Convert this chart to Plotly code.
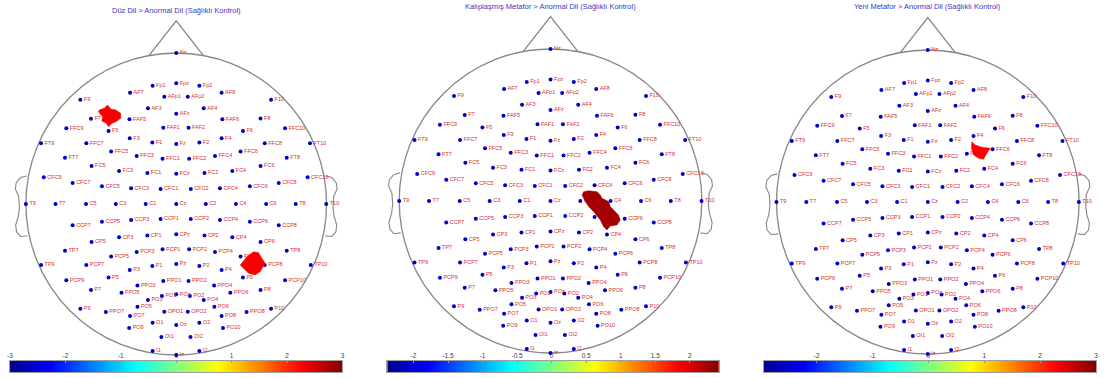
import numpy as np
import plotly.graph_objects as go
from plotly.colors import sample_colorscale

W, H = 1110, 378

# ---------------- data ----------------
names = ["Nz", "Fp1", "Fpz", "Fp2", "AF7", "AFp1", "AFp2", "AF8", "F9", "F10",
         "AF3", "AFz", "AF4", "F7", "FAF5", "FAF6", "F8", "FFC9", "FAF1", "FAF2",
         "FFC10", "F5", "F6", "FT9", "FFC7", "F3", "F1", "Fz", "F2", "F4",
         "FFC8", "FT10", "FFC5", "FFC6", "FT7", "FFC3", "FFC1", "FFC2", "FFC4", "FT8",
         "FC5", "FC6", "FC3", "FC1", "FCz", "FC2", "FC4", "CFC9", "CFC10", "CFC7",
         "CFC8", "CFC5", "CFC3", "CFC1", "CFC2", "CFC4", "CFC6", "T9", "T7", "C5",
         "C3", "C1", "Cz", "C2", "C4", "C6", "T8", "T10", "CCP7", "CCP5",
         "CCP3", "CCP1", "CCP2", "CCP4", "CCP6", "CCP8", "CP5", "CP3", "CP1", "CPz",
         "CP2", "CP4", "CP6", "TP7", "PCP5", "PCP3", "PCP1", "PCP2", "PCP4", "PCP6",
         "TP8", "TP9", "PCP7", "P3", "P1", "Pz", "P2", "P4", "PCP8", "TP10",
         "PCP9", "P5", "PPO1", "PPO2", "P6", "PCP10", "P7", "PPO5", "PPO3", "PPO4",
         "PPO6", "P8", "PO3", "PO1", "POz", "PO2", "PO4", "P9", "PPO7", "PO5",
         "OPO1", "OPO2", "PO6", "PPO8", "P10", "PO7", "PO8", "O1", "Oz", "O2",
         "PO9", "PO10", "OI1", "OI2", "I1", "Iz", "I2"]
elec_x = [0.0, -0.157, 0.0, 0.154, -0.307, -0.079, 0.077, 0.302, -0.638, 0.631,
          -0.188, 0.0, 0.183, -0.567, -0.311, 0.307, 0.561, -0.731, -0.086, 0.082,
          0.724, -0.450, 0.444, -0.899, -0.598, -0.309, -0.159, 0.0, 0.154, 0.302,
          0.589, 0.890, -0.433, 0.428, -0.740, -0.263, -0.091, 0.086, 0.258, 0.735,
          -0.563, 0.561, -0.380, -0.192, 0.0, 0.188, 0.373, -0.881, 0.874, -0.689,
          0.682, -0.494, -0.300, -0.104, 0.097, 0.291, 0.490, -1.0, -0.803, -0.600,
          -0.402, -0.203, 0.0, 0.197, 0.397, 0.598, 0.795, 0.998, -0.689, -0.494,
          -0.300, -0.104, 0.097, 0.291, 0.490, 0.682, -0.563, -0.380, -0.192, 0.0,
          0.188, 0.373, 0.561, -0.740, -0.433, -0.263, -0.091, 0.086, 0.258, 0.428,
          0.735, -0.899, -0.598, -0.309, -0.159, 0.0, 0.154, 0.302, 0.589, 0.895,
          -0.731, -0.450, -0.086, 0.082, 0.444, 0.724, -0.567, -0.364, -0.258, 0.252,
          0.360, 0.561, -0.188, -0.095, 0.0, 0.091, 0.183, -0.638, -0.468, -0.258,
          -0.079, 0.077, 0.254, 0.468, 0.631, -0.307, 0.302, -0.157, 0.0, 0.154,
          -0.313, 0.311, -0.099, 0.095, -0.157, 0.0, 0.154]
elec_y = [1.0, 0.783, 0.799, 0.783, 0.737, 0.711, 0.711, 0.737, 0.691, 0.691,
          0.634, 0.598, 0.634, 0.565, 0.561, 0.561, 0.567, 0.501, 0.505, 0.505,
          0.501, 0.483, 0.483, 0.402, 0.402, 0.435, 0.408, 0.397, 0.408, 0.435,
          0.402, 0.402, 0.347, 0.347, 0.307, 0.318, 0.300, 0.300, 0.318, 0.307,
          0.252, 0.252, 0.219, 0.205, 0.201, 0.205, 0.219, 0.177, 0.177, 0.139,
          0.139, 0.117, 0.104, 0.099, 0.099, 0.104, 0.117, 0.0, 0.0, 0.0,
          0.0, 0.0, 0.0, 0.0, 0.0, 0.0, 0.0, 0.0, -0.141, -0.117,
          -0.106, -0.099, -0.099, -0.106, -0.117, -0.141, -0.252, -0.221, -0.208, -0.201,
          -0.208, -0.221, -0.252, -0.309, -0.347, -0.318, -0.300, -0.300, -0.318, -0.347,
          -0.309, -0.404, -0.404, -0.437, -0.410, -0.397, -0.410, -0.437, -0.404, -0.404,
          -0.505, -0.486, -0.510, -0.510, -0.486, -0.505, -0.570, -0.587, -0.539, -0.539,
          -0.587, -0.570, -0.636, -0.609, -0.598, -0.609, -0.636, -0.693, -0.715, -0.680,
          -0.713, -0.713, -0.680, -0.715, -0.693, -0.742, -0.742, -0.786, -0.801, -0.786,
          -0.821, -0.821, -0.881, -0.881, -0.974, -1.0, -0.974]

titles = ["Düz Dil > Anormal Dil (Sağlıklı Kontrol)",
          "Kalıplaşmış Metafor > Anormal Dil (Sağlıklı Kontrol)",
          "Yeni Metafor > Anormal Dil (Sağlıklı Kontrol)"]

color_ranges = [(-3.0, 3.0), (-2.38, 2.42), (-2.95, 3.0)]
tick_vals = [[-3, -2, -1, 0, 1, 2, 3],
             [-2, -1.5, -1, -0.5, 0, 0.5, 1, 1.5, 2],
             [-2, -1, 0, 1, 2, 3]]
tick_text = [["-3", "-2", "-1", "0", "1", "2", "3"],
             ["-2", "-1.5", "-1", "-0.5", "0", "0.5", "1", "1.5", "2"],
             ["-2", "-1", "0", "1", "2", "3"]]

# significant clusters (outline in head coordinates) and their t-values
p1_blobA_x = [-0.512, -0.479, -0.457, -0.435, -0.402, -0.369, -0.369, -0.402, -0.428, -0.450, -0.464, -0.495, -0.490, -0.517]
p1_blobA_y = [0.623, 0.634, 0.656, 0.629, 0.623, 0.601, 0.568, 0.545, 0.534, 0.512, 0.534, 0.550, 0.578, 0.611]
p1_blobB_x = [0.426, 0.470, 0.515, 0.548, 0.570, 0.591, 0.558, 0.525, 0.481, 0.448]
p1_blobB_y = [-0.404, -0.349, -0.316, -0.323, -0.360, -0.393, -0.448, -0.470, -0.459, -0.426]
p2_blob_x = [0.219, 0.252, 0.307, 0.329, 0.340, 0.384, 0.395, 0.449, 0.461, 0.439, 0.395, 0.373, 0.351, 0.329, 0.285, 0.252, 0.230, 0.208]
p2_blob_y = [0.061, 0.068, 0.061, 0.039, 0.018, -0.004, -0.037, -0.092, -0.125, -0.158, -0.164, -0.191, -0.169, -0.125, -0.070, -0.037, -0.004, 0.039]
p3_blob_x = [0.291, 0.314, 0.357, 0.413, 0.390, 0.368, 0.336, 0.303, 0.288]
p3_blob_y = [0.397, 0.375, 0.360, 0.353, 0.320, 0.281, 0.288, 0.309, 0.353]

blobs = [
    [(p1_blobA_x, p1_blobA_y, 2.3), (p1_blobB_x, p1_blobB_y, 2.3)],
    [(p2_blob_x, p2_blob_y, 2.25)],
    [(p3_blob_x, p3_blob_y, 2.28)],
]

# ---------------- styling / geometry ----------------
jet = [[0.0, "rgb(0,0,143)"], [0.125, "rgb(0,0,255)"], [0.375, "rgb(0,255,255)"],
       [0.625, "rgb(255,255,0)"], [0.875, "rgb(255,0,0)"], [1.0, "rgb(128,0,0)"]]

panels = [
    dict(cx=174, cy=204, r=151, x0=0, x1=370, ty=10.5, bx0=7, bx1=341),
    dict(cx=550, cy=201, r=152, x0=370, x1=740, ty=6.5, bx0=386, bx1=719),
    dict(cx=929, cy=202, r=152, x0=740, x1=1110, ty=6.5, bx0=764, bx1=1098),
]
bar_top, bar_bot = 361, 372

ear_x = [0.995, 1.035, 1.065, 1.07, 1.048, 1.043, 1.05, 1.068, 1.062, 1.035, 0.99]
ear_y = [0.185, 0.175, 0.14, 0.1, 0.05, -0.02, -0.08, -0.14, -0.185, -0.215, -0.21]

head_col = "rgb(135,135,135)"
fig = go.Figure()
layout = dict(width=W, height=H, margin=dict(l=0, r=0, t=0, b=0),
              paper_bgcolor="white", plot_bgcolor="rgba(0,0,0,0)",
              showlegend=False, font=dict(family="Arial, Liberation Sans, sans-serif"))
shapes, annotations = [], []

# colorbars on axes 1-3
for i, p in enumerate(panels):
    k = i + 1
    cmin, cmax = color_ranges[i]
    n = 256
    dx = (cmax - cmin) / n
    xs = cmin + dx * (np.arange(n) + 0.5)
    fig.add_trace(go.Heatmap(z=[xs], x=xs, y=[0.5], colorscale=jet, zmin=cmin, zmax=cmax,
                             showscale=False, hoverinfo="skip",
                             xaxis=f"x{k}", yaxis=f"y{k}"))
    sfx = "" if k == 1 else str(k)
    layout[f"xaxis{sfx}"] = dict(domain=[p["bx0"] / W, p["bx1"] / W], range=[cmin, cmax],
                                 anchor=f"y{k}", side="top", tickvals=tick_vals[i],
                                 ticktext=tick_text[i], ticks="inside", ticklen=2,
                                 tickcolor="rgb(150,150,150)", showgrid=False, zeroline=False,
                                 showline=True, mirror=True, linecolor="rgb(160,160,160)",
                                 linewidth=0.6, tickfont=dict(size=6.5, color="rgb(60,60,60)"),
                                 fixedrange=True)
    layout[f"yaxis{sfx}"] = dict(domain=[(H - bar_bot) / H, (H - bar_top) / H], range=[0, 1],
                                 anchor=f"x{k}", showticklabels=False, ticks="", showgrid=False,
                                 zeroline=False, showline=True, mirror=True,
                                 linecolor="rgb(160,160,160)", linewidth=0.6, fixedrange=True)

# heads on axes 4-6
for i, p in enumerate(panels):
    k = i + 4
    r, cx, cy = p["r"], p["cx"], p["cy"]
    xa, ya = f"x{k}", f"y{k}"
    layout[f"xaxis{k}"] = dict(domain=[p["x0"] / W, p["x1"] / W],
                               range=[(p["x0"] - cx) / r, (p["x1"] - cx) / r],
                               anchor=ya, visible=False, fixedrange=True)
    layout[f"yaxis{k}"] = dict(domain=[0, 1], range=[(cy - H) / r, cy / r],
                               anchor=xa, visible=False, fixedrange=True)
    # head outline
    shapes.append(dict(type="circle", xref=xa, yref=ya, x0=-1, y0=-1, x1=1, y1=1,
                       line=dict(color=head_col, width=1.3), layer="below"))
    shapes.append(dict(type="path", xref=xa, yref=ya,
                       path="M -0.18 0.984 L 0 1.213 L 0.18 0.984",
                       line=dict(color=head_col, width=1.3), layer="below"))
    for sgn in (1, -1):
        path = "M " + " L ".join(f"{sgn*x:.3f} {y:.3f}" for x, y in zip(ear_x, ear_y))
        shapes.append(dict(type="path", xref=xa, yref=ya, path=path,
                           line=dict(color=head_col, width=1.1), layer="below"))
    # electrodes
    fig.add_trace(go.Scatter(x=elec_x, y=elec_y, mode="markers+text", text=names,
                             textposition="middle right",
                             marker=dict(size=4, color="rgb(0,0,200)"),
                             textfont=dict(size=5.5, color="rgb(215,45,45)"),
                             cliponaxis=False, hoverinfo="text",
                             xaxis=xa, yaxis=ya))
    # clusters
    cmin, cmax = color_ranges[i]
    for bx, by, val in blobs[i]:
        col = sample_colorscale(jet, [(val - cmin) / (cmax - cmin)])[0]
        fig.add_trace(go.Scatter(x=bx + [bx[0]], y=by + [by[0]], mode="lines", fill="toself",
                                 fillcolor=col, line=dict(color=col, width=0.5),
                                 hoverinfo="skip", xaxis=xa, yaxis=ya))
    annotations.append(dict(text=titles[i], x=cx / W, y=1 - p["ty"] / H, xref="paper",
                            yref="paper", xanchor="center", yanchor="middle", showarrow=False,
                            font=dict(size=7.5, color="rgb(55,55,200)")))

layout["shapes"] = shapes
layout["annotations"] = annotations
fig.update_layout(**layout)
fig.write_html("out.html", config={"displayModeBar": False},
               post_script="document.body.style.margin='0px';document.body.style.overflow='hidden';")
